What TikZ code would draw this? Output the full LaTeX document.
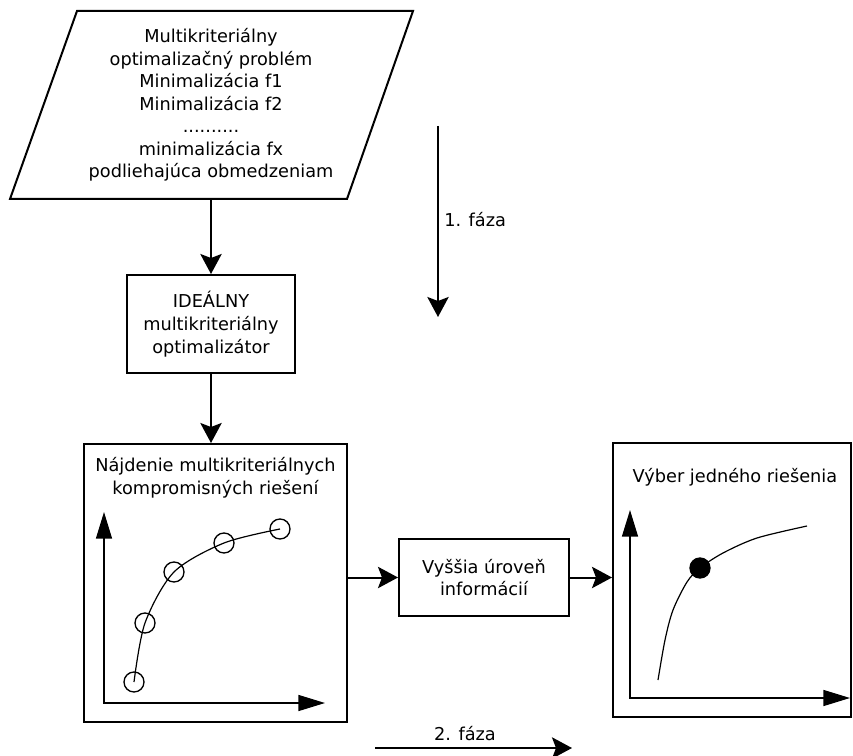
\documentclass[tikz,border=0pt]{standalone}
\usepackage{fontspec}
\setmainfont{DejaVu Sans}
\usetikzlibrary{arrows.meta}

\tikzset{
  box/.style={draw,line width=1.5pt,align=center,inner sep=0pt},
  txt/.style={align=center,inner sep=0pt,font=\fontsize{13.3}{17}\selectfont},
  flow/.style={line width=1.5pt,-{Stealth[length=15pt,width=16pt,inset=3pt]}},
  axis/.style={line width=1.1pt,{Triangle[length=20pt,width=12pt]}-{Triangle[length=20pt,width=12pt]}},
  curve/.style={line width=0.9pt},
  point/.style={circle,draw,line width=1pt,minimum size=15pt,inner sep=0pt},
}

\begin{document}
\begin{tikzpicture}[x=0.75pt,y=-0.75pt]
  \useasboundingbox (0,0) rectangle (853,756);
  % zadanie problemu
  \draw[line width=1.5pt] (10,199) -- (77,11) -- (413,11) -- (347,199) -- cycle;
  \node[txt,font=\fontsize{13.3}{16.9}\selectfont] (problem) at (211,105) {Multikriteriálny\\ optimalizačný problém\\ Minimalizácia f1\\ Minimalizácia f2\\ ..........\\ minimalizácia fx\\ podliehajúca obmedzeniam};
  \coordinate (pbottom) at (211,199);

  % optimalizator
  \node[box,txt,minimum width=126pt,minimum height=73.5pt] (ideal) at (211,324) {IDEÁLNY\\ multikriteriálny\\ optimalizátor};

  % velke boxy
  \node[box,minimum width=197.25pt,minimum height=208.5pt] (front) at (215.5,583) {};
  \node[txt] (fronttitle) at (215.5,477.5) {Nájdenie multikriteriálnych\\ kompromisných riešení};
  \node[box,txt,minimum width=127.5pt,minimum height=57.75pt] (info) at (484,577.5) {Vyššia úroveň\\ informácií};
  \node[box,minimum width=178.5pt,minimum height=205.5pt] (choice) at (732,580) {};
  \node[txt] (choicetitle) at (735,477) {Výber jedného riešenia};

  % sipky
  \draw[flow] (pbottom) -- (pbottom |- ideal.north);
  \draw[flow] (ideal.south) -- (ideal.south |- front.north);
  \draw[flow] (front.east |- info) -- (info.west);
  \draw[flow] (info.east) -- (info.east -| choice.west);

  % fazy
  \coordinate (f1a) at (438,126);
  \coordinate (f1b) at (438,317);
  \draw[flow] (f1a) -- (f1b);
  \node[txt,anchor=west] (phase1) at (444,220) {1. fáza};
  \coordinate (f2a) at (375,748);
  \coordinate (f2b) at (572,748);
  \draw[flow] (f2a) -- (f2b);
  \node[txt] (phase2) at (465,734) {2. fáza};

  % graf vlavo
  \draw[axis] (104,512) -- (104,703) -- (325,703);
  \foreach \x/\y [count=\i] in {134/682,145/623,174/572,224/543,280/529}
    \node[point] (s\i) at (\x,\y) {};
  \draw[curve] plot[smooth] coordinates {(s1.center) (s2.center) (s3.center) (s4.center) (s5.center)};

  % graf vpravo
  \draw[axis] (630,510) -- (630,698) -- (850,698);
  \draw[curve] plot[smooth] coordinates {(658,680) (665,640) (673,610) (687,582) (700,568) (723,553) (757,538) (807,526)};
  \node[point,fill] (best) at (700,568) {};
\end{tikzpicture}
\end{document}
